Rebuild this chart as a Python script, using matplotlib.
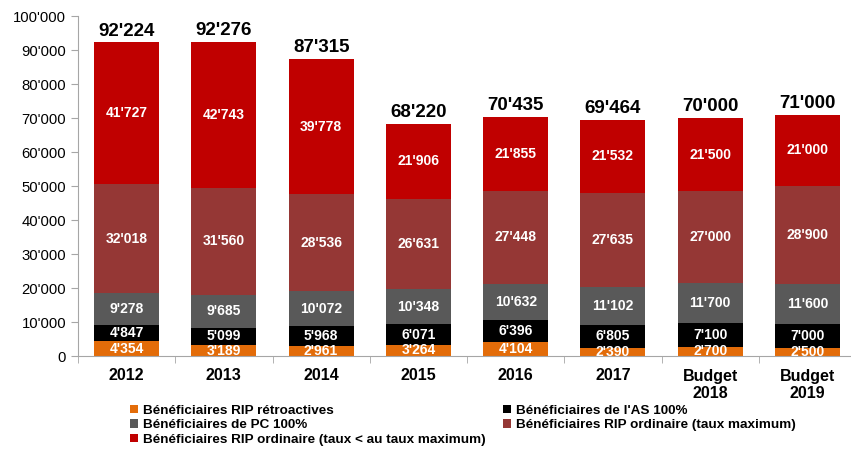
import numpy as np
import matplotlib.pyplot as plt

plt.rcParams['font.family'] = ['Liberation Sans', 'DejaVu Sans']

years = ["2012", "2013", "2014", "2015", "2016", "2017", "Budget\n2018", "Budget\n2019"]
rip_retro = [4354, 3189, 2961, 3264, 4104, 2390, 2700, 2500]
as_100 = [4847, 5099, 5968, 6071, 6396, 6805, 7100, 7000]
pc_100 = [9278, 9685, 10072, 10348, 10632, 11102, 11700, 11600]
rip_max = [32018, 31560, 28536, 26631, 27448, 27635, 27000, 28900]
rip_lower = [41727, 42743, 39778, 21906, 21855, 21532, 21500, 21000]
totals = [92224, 92276, 87315, 68220, 70435, 69464, 70000, 71000]

series = [
    ("Bénéficiaires RIP rétroactives", rip_retro, "#E36C09"),
    ("Bénéficiaires de l'AS 100%", as_100, "#000000"),
    ("Bénéficiaires de PC 100%", pc_100, "#595959"),
    ("Bénéficiaires RIP ordinaire (taux maximum)", rip_max, "#953735"),
    ("Bénéficiaires RIP ordinaire (taux < au taux maximum)", rip_lower, "#C00000"),
]

def fmt(v):
    return f"{int(v):,}".replace(",", "'")

fig = plt.figure(figsize=(8.51, 4.5), dpi=100)
ax = fig.add_axes([78 / 851, (450 - 356) / 450, 778 / 851, 340 / 450])

x = np.arange(len(years))
bottom = np.zeros(len(years))
handles = []
for name, vals, col in series:
    vals = np.array(vals)
    b = ax.bar(x, vals, width=0.67, bottom=bottom, color=col, label=name)
    handles.append(b)
    for xi, v, bt in zip(x, vals, bottom):
        ax.text(xi, bt + v / 2, fmt(v), ha="center", va="center", color="white",
                fontsize=10, fontweight="bold")
    bottom = bottom + vals

for xi, t in zip(x, totals):
    ax.annotate(fmt(t), (xi, t), xytext=(0, 2), textcoords="offset points",
                ha="center", va="bottom", fontsize=13.5, fontweight="bold")

ax.set_ylim(0, 100000)
ax.set_xlim(-0.5, 7.5)
ax.set_yticks(np.arange(0, 100001, 10000))
ax.set_yticklabels([fmt(v) for v in np.arange(0, 100001, 10000)], fontsize=10.7)
ax.set_xticks(x)
ax.set_xticklabels(years, fontsize=11.5, fontweight="bold", linespacing=1.25)
ax.set_xticks(np.arange(-0.5, 8, 1), minor=True)
ax.tick_params(axis="x", which="major", length=0, pad=9)
ax.tick_params(axis="x", which="minor", length=5, color="#A6A6A6")
ax.tick_params(axis="y", length=5, color="#A6A6A6")
for s in ["top", "right"]:
    ax.spines[s].set_visible(False)
for s in ["left", "bottom"]:
    ax.spines[s].set_color("#A6A6A6")

# column-major fill so rows read: retro/AS, PC/RIP max, RIP lower
idx = [0, 2, 4, 1, 3]
fig.legend([handles[i] for i in idx], [series[i][0] for i in idx], loc="lower left",
           bbox_to_anchor=(0.139, -0.018), ncol=2, frameon=False,
           prop={"size": 9.7, "weight": "bold"}, handlelength=0.55,
           handleheight=0.55, handletextpad=0.4, columnspacing=1.3,
           labelspacing=0.2)

fig.savefig("out.png", dpi=100)
